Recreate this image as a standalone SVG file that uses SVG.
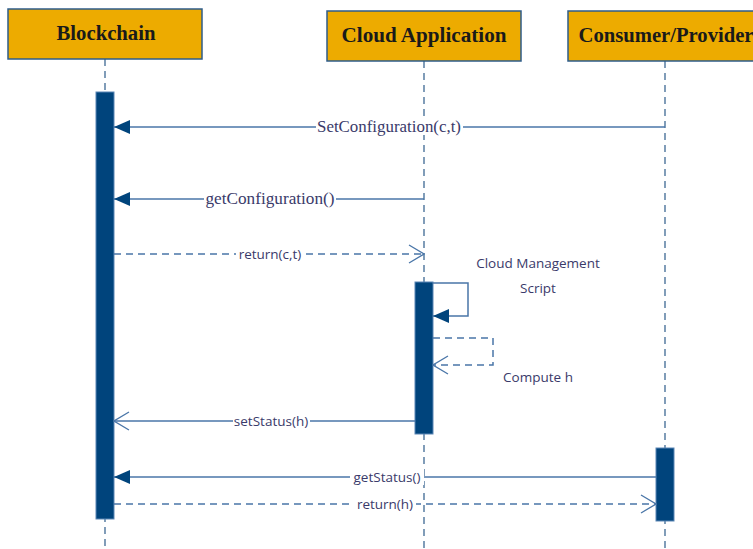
<svg xmlns="http://www.w3.org/2000/svg" width="753" height="549" viewBox="0 0 753 549">
<style>
.box{fill:#EDAB00;stroke:#2E5C8A;stroke-width:1.5}
.hd{font-family:"Liberation Serif",serif;font-weight:bold;font-size:20px;fill:#1a1a1a;text-anchor:middle}
.life{stroke:#2E5C8A;stroke-width:1.2;stroke-dasharray:7 5;fill:none}
.act{fill:#00447C;stroke:#5B86B5;stroke-width:1}
.msg{stroke:#4A76A8;stroke-width:1.5;fill:none}
.dash{stroke-dasharray:7 5}
.lbl{font-family:"Liberation Serif",serif;font-size:16px;fill:#3A3A6A;text-anchor:middle}
.lbl2{font-family:"Open Sans","Liberation Sans",sans-serif;font-size:13.5px;fill:#3A3A6A;text-anchor:middle}
.bg{fill:#ffffff}
</style>
<defs>
<marker id="fill" markerUnits="userSpaceOnUse" markerWidth="17" markerHeight="16" viewBox="0 0 17 16" refX="16" refY="8" orient="auto">
<path d="M0,1 L16,8 L0,15 z" fill="#00447C"/>
</marker>
<marker id="open" markerUnits="userSpaceOnUse" markerWidth="17" markerHeight="22" viewBox="0 0 17 22" refX="16" refY="11" orient="auto">
<path d="M1,2 L16,11 L1,20" fill="none" stroke="#4A76A8" stroke-width="1.3"/>
</marker>
</defs>
<rect width="753" height="549" fill="#ffffff"/>
<g id="blockchain">
<rect class="box" x="8" y="9" width="194" height="50"/>
<text class="hd" x="106" y="40" textLength="99" lengthAdjust="spacingAndGlyphs">Blockchain</text>
<line class="life" x1="105" y1="59" x2="105" y2="549"/>
<rect class="act" x="96" y="92" width="18" height="427"/>
</g>
<g id="cloud">
<rect class="box" x="327" y="11" width="194" height="50"/>
<text class="hd" x="424" y="42" textLength="165" lengthAdjust="spacingAndGlyphs">Cloud Application</text>
<line class="life" x1="424" y1="61" x2="424" y2="549"/>
<rect class="act" x="415" y="282" width="18" height="152"/>
</g>
<g id="consumer">
<rect class="box" x="568" y="11" width="200" height="50"/>
<text class="hd" x="666" y="42" textLength="175" lengthAdjust="spacingAndGlyphs">Consumer/Provider</text>
<line class="life" x1="665" y1="61" x2="665" y2="549"/>
<rect class="act" x="656" y="448" width="18" height="73"/>
</g>
<g id="connectors">
<line class="msg" x1="665" y1="127" x2="114" y2="127" marker-end="url(#fill)"/>
<rect class="bg" x="316" y="119" width="147" height="16"/>
<text class="lbl" x="389" y="132" textLength="144" lengthAdjust="spacingAndGlyphs">SetConfiguration(c,t)</text>

<line class="msg" x1="424" y1="199" x2="114" y2="199" marker-end="url(#fill)"/>
<rect class="bg" x="204" y="191" width="132" height="16"/>
<text class="lbl" x="270" y="204" textLength="129" lengthAdjust="spacingAndGlyphs">getConfiguration()</text>

<line class="msg dash" x1="114" y1="254" x2="424" y2="254" marker-end="url(#open)"/>
<rect class="bg" x="236" y="246" width="68" height="16"/>
<text class="lbl2" x="270" y="259">return(c,t)</text>

<polyline class="msg" points="433,283 468,283 468,316 433,316" marker-end="url(#fill)"/>
<text class="lbl2" x="538" y="268">Cloud Management</text>
<text class="lbl2" x="538" y="293">Script</text>

<polyline class="msg dash" points="433,338 493,338 493,365 433,365" marker-end="url(#open)"/>
<text class="lbl2" x="538" y="382">Compute h</text>

<line class="msg" x1="415" y1="421" x2="114" y2="421" marker-end="url(#open)"/>
<rect class="bg" x="233" y="413" width="77" height="16"/>
<text class="lbl2" x="271" y="426">setStatus(h)</text>

<line class="msg" x1="656" y1="477" x2="114" y2="477" marker-end="url(#fill)"/>
<rect class="bg" x="350" y="469" width="74" height="16"/>
<text class="lbl2" x="387" y="482">getStatus()</text>

<line class="msg dash" x1="114" y1="504" x2="656" y2="504" marker-end="url(#open)"/>
<rect class="bg" x="354" y="496" width="62" height="16"/>
<text class="lbl2" x="385" y="509">return(h)</text>
</g>
</svg>
